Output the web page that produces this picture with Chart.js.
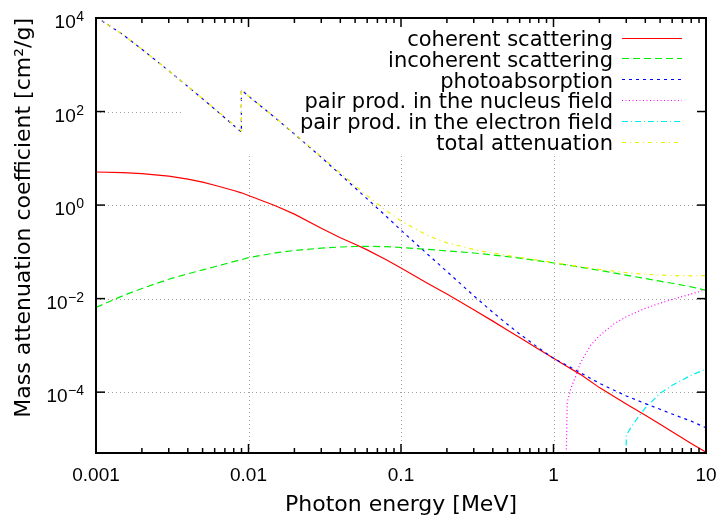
<!DOCTYPE html>
<html><head><meta charset="utf-8">
<script src="https://cdn.jsdelivr.net/npm/chart.js@4.4.0/dist/chart.umd.min.js"></script>
<style>html,body{margin:0;padding:0;background:#fff}#wrap{width:722px;height:519px}</style>
</head><body><div id="wrap"><canvas id="c" width="722" height="519"></canvas></div>
<script>
// ---- data (photon energy in MeV, mass attenuation in cm^2/g) ----
const energies = [0.001, 0.0015, 0.002, 0.003, 0.004, 0.005, 0.006, 0.008, 0.00898, 0.00898, 0.01, 0.015, 0.02, 0.03, 0.04, 0.05, 0.06, 0.08, 0.1, 0.15, 0.2, 0.3, 0.4, 0.5, 0.6, 0.8, 1, 1.25, 1.5, 2, 3, 4, 5, 6, 8, 10];
const coherent = [5.1, 4.95, 4.7, 4.15, 3.6, 3.1, 2.65, 2.05, 1.83, 1.83, 1.6, 0.97, 0.64, 0.32, 0.2, 0.145, 0.11, 0.068, 0.045, 0.021, 0.0125, 0.0058, 0.0033, 0.0021, 0.00147, 0.00083, 0.00053, 0.00034, 0.00024, 0.000125, 0.000056, 0.000032, 0.0000205, 0.0000142, 0.000008, 0.0000052];
const incoherent = [0.0065, 0.0115, 0.0165, 0.026, 0.034, 0.041, 0.048, 0.062, 0.068, 0.068, 0.075, 0.095, 0.107, 0.12, 0.127, 0.13, 0.131, 0.129, 0.124, 0.113, 0.105, 0.0946, 0.0857, 0.0787, 0.0731, 0.0644, 0.0578, 0.0518, 0.0469, 0.0402, 0.0317, 0.0269, 0.0236, 0.0213, 0.0178, 0.0150];
const photoabsorption = [10560, 4410, 2150, 744, 343, 186.8, 112.9, 50.4, 36.4, 290, 213.9, 73.0, 33.0, 10.5, 4.5, 2.33, 1.36, 0.575, 0.29, 0.088, 0.038, 0.0115, 0.0051, 0.0028, 0.00175, 0.00088, 0.00053, 0.00036, 0.00026, 0.000155, 0.000083, 0.000057, 0.000043, 0.000034, 0.000024, 0.0000173];
const totalAttenuation = [10570, 4418, 2154, 748.8, 347.3, 189.9, 115.6, 52.55, 38.29, 292, 215.5, 74.09, 33.79, 10.92, 4.862, 2.613, 1.593, 0.763, 0.4584, 0.2217, 0.1559, 0.1119, 0.09413, 0.08362, 0.07625, 0.06605, 0.05901, 0.05261, 0.04803, 0.04205, 0.03599, 0.03318, 0.03177, 0.03108, 0.03074, 0.03103];
const pairNucleusEnergies = [1.21, 1.23, 1.3, 1.4, 1.5, 1.75, 2, 2.5, 3, 4, 5, 6, 8, 10];
const pairNucleus = [0.000003, 0.00006, 0.00012, 0.00022, 0.00042, 0.001, 0.0016, 0.0029, 0.0041, 0.0062, 0.008, 0.0096, 0.0126, 0.0155];
const pairElectronEnergies = [2.99, 3.0, 3.2, 3.5, 4, 5, 6, 8, 10];
const pairElectron = [0.000002, 0.000012, 0.000017, 0.000026, 0.000046, 0.000095, 0.00014, 0.00023, 0.00031];
const seriesNames = ['coherent scattering', 'incoherent scattering', 'photoabsorption', 'pair prod. in the nucleus field', 'pair prod. in the electron field', 'total attenuation'];
const xTickValues = [0.001, 0.01, 0.1, 1, 10];
const xTickLabels = ['0.001', '0.01', '0.1', '1', '10'];
const yTickExponents = [-4, -2, 0, 2, 4];
const xTitle = 'Photon energy [MeV]';
const yTitle = 'Mass attenuation coefficient [cm\u00B2/g]';

// ---- styles ----
const colors = ['#ff0000', '#00ee00', '#0000ff', '#ff00ff', '#00eeee', '#eeee00'];
const dashes = [[], [7, 4], [3, 4], [1, 2.5], [6, 3, 1, 3], [4, 4, 1, 4]];
const TICK_FONT = '19px "Liberation Sans", Arial, sans-serif';
const SUP_FONT = '14px "Liberation Sans", Arial, sans-serif';
const LABEL_FONT = '21px "DejaVu Sans", sans-serif';

const pts = (xs, ys) => xs.map((x, i) => ({x: x, y: ys[i]}));
const seriesData = [
  pts(energies, coherent),
  pts(energies, incoherent),
  pts(energies, photoabsorption),
  pts(pairNucleusEnergies, pairNucleus),
  pts(pairElectronEnergies, pairElectron),
  pts(energies, totalAttenuation)
];
const datasets = seriesData.map((d, i) => ({
  label: seriesNames[i], data: d, borderColor: colors[i], backgroundColor: colors[i],
  borderWidth: 1.2, borderDash: dashes[i], pointRadius: 0, fill: false, tension: 0,
  order: 6 - i
}));

function seg(ctx, x0, y0, x1, y1) { ctx.beginPath(); ctx.moveTo(x0, y0); ctx.lineTo(x1, y1); ctx.stroke(); }

const gnuplotLook = {
  id: 'gnuplotLook',
  beforeDraw(chart) {
    const ctx = chart.ctx; ctx.save(); ctx.fillStyle = '#fff'; ctx.fillRect(0, 0, chart.width, chart.height); ctx.restore();
  },
  beforeDatasetsDraw(chart) {
    const {ctx, chartArea: a, scales: {x, y}} = chart;
    const keyLeft = a.left + 87, keyBottom = a.top + 137;
    ctx.save();
    ctx.beginPath();
    ctx.rect(a.left, a.top, a.right - a.left, a.bottom - a.top);
    ctx.rect(keyLeft, a.top, a.right - keyLeft, keyBottom - a.top);
    ctx.clip('evenodd');
    ctx.strokeStyle = '#a0a0a0'; ctx.lineWidth = 1; ctx.setLineDash([1, 3]);
    xTickValues.forEach(v => {
      const px = Math.round(x.getPixelForValue(v)) + 0.5;
      if (px > a.left + 2 && px < a.right - 2) seg(ctx, px, a.bottom, px, a.top);
    });
    yTickExponents.forEach(e => {
      const py = Math.round(y.getPixelForValue(Math.pow(10, e))) + 0.5;
      if (py > a.top + 2 && py < a.bottom - 2) seg(ctx, a.left, py, a.right, py);
    });
    ctx.restore();
  },
  afterDatasetsDraw(chart) {
    const {ctx, chartArea: a, scales: {x, y}} = chart;
    ctx.save();
    ctx.strokeStyle = '#000'; ctx.setLineDash([]);
    // ticks
    ctx.lineWidth = 1.5;
    const majLen = 9, minLen = 5;
    for (let d = -3; d <= 1; d++) {
      for (let m = 1; m <= 9; m++) {
        const v = m * Math.pow(10, d);
        if (v < 0.001 * 0.999 || v > 10 * 1.001) continue;
        const px = x.getPixelForValue(v);
        const L = m === 1 ? majLen : minLen;
        seg(ctx, px, a.bottom, px, a.bottom - L);
        seg(ctx, px, a.top, px, a.top + L);
      }
    }
    yTickExponents.forEach(e => {
      const py = y.getPixelForValue(Math.pow(10, e));
      seg(ctx, a.left, py, a.left + majLen, py);
      seg(ctx, a.right, py, a.right - majLen, py);
    });
    // frame
    ctx.lineWidth = 2;
    ctx.strokeRect(a.left, a.top, a.right - a.left, a.bottom - a.top);
    // y tick labels with superscripts
    ctx.fillStyle = '#000';
    const R = a.left - 12;
    yTickExponents.forEach(e => {
      const py = y.getPixelForValue(Math.pow(10, e));
      const sup = (e < 0 ? '\u2212' : '') + Math.abs(e);
      ctx.font = SUP_FONT; ctx.textAlign = 'right'; ctx.textBaseline = 'alphabetic';
      const sw = ctx.measureText(sup).width;
      ctx.fillText(sup, R, py + 3);
      ctx.font = TICK_FONT;
      ctx.fillText('10', R - sw - 0.5, py + 10);
    });
    // key
    const textRight = a.right - 93, s0 = a.right - 84, s1 = a.right - 24;
    ctx.font = LABEL_FONT; ctx.textAlign = 'right'; ctx.textBaseline = 'alphabetic';
    seriesNames.forEach((name, i) => {
      const ry = a.top + 19.5 + i * 20.8;
      ctx.fillStyle = '#000';
      ctx.fillText(name, textRight, ry + 8.5);
      ctx.strokeStyle = colors[i]; ctx.lineWidth = 1.2; ctx.setLineDash(dashes[i]);
      seg(ctx, s0, Math.round(ry) + 0.5, s1, Math.round(ry) + 0.5);
    });
    ctx.restore();
  }
};

new Chart(document.getElementById('c'), {
  type: 'line',
  data: {datasets: datasets},
  options: {
    responsive: false, animation: false, devicePixelRatio: 1,
    layout: {padding: {top: 18, right: 16, bottom: 0, left: 0}},
    plugins: {legend: {display: false}, tooltip: {enabled: false}},
    scales: {
      x: {
        type: 'logarithmic', min: 0.001, max: 10,
        grid: {display: false, drawTicks: false}, border: {display: false},
        afterBuildTicks: s => { s.ticks = xTickValues.map(v => ({value: v})); },
        afterFit: s => { s.height = 66; s.paddingLeft = 0; s.paddingRight = 0; },
        ticks: {
          color: '#000', padding: 11, maxRotation: 0, autoSkip: false,
          font: {family: '"Liberation Sans", Arial, sans-serif', size: 19},
          callback: (v) => { const i = xTickValues.findIndex(t => Math.abs(t - v) / t < 1e-6); return i >= 0 ? xTickLabels[i] : ''; }
        },
        title: {display: true, text: xTitle, color: '#000', font: {family: '"DejaVu Sans", sans-serif', size: 22}, padding: {top: 0, bottom: 1}}
      },
      y: {
        type: 'logarithmic', min: 5e-6, max: 1e4,
        grid: {display: false, drawTicks: false}, border: {display: false},
        afterBuildTicks: s => { s.ticks = yTickExponents.map(e => ({value: Math.pow(10, e)})); },
        afterFit: s => { s.width = 96; s.paddingTop = 0; s.paddingBottom = 0; },
        ticks: {display: false},
        title: {display: true, text: yTitle, align: 'end', color: '#000', font: {family: '"DejaVu Sans", sans-serif', size: 22}, padding: {top: 11, bottom: 0}}
      }
    }
  },
  plugins: [gnuplotLook]
});
</script>
</body></html>
